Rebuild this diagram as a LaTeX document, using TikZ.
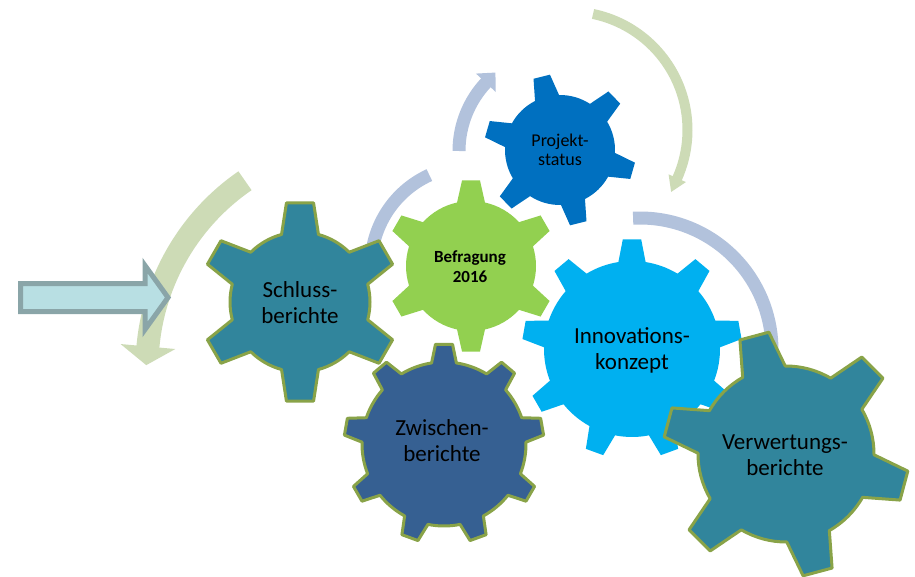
\documentclass[tikz,border=0pt]{standalone}
\usepackage{fontspec}
\setmainfont{Carlito}
\usetikzlibrary{calc}
\definecolor{tealgear}{RGB}{49,133,156}
\definecolor{navygear}{RGB}{54,96,146}
\definecolor{limegear}{RGB}{146,208,80}
\definecolor{bluegear}{RGB}{0,112,192}
\definecolor{skygear}{RGB}{0,176,240}
\definecolor{olivrim}{RGB}{137,163,72}
\definecolor{sagearc}{RGB}{205,219,182}
\definecolor{greyblue}{RGB}{178,194,220}
\definecolor{arrowfill}{RGB}{184,223,227}
\definecolor{arrowrim}{RGB}{138,165,168}
\tikzset{
  rimmed/.style={draw=olivrim, line width=3pt, line join=round},
  sagestroke/.style={draw=sagearc},
  sagehead/.style={fill=sagearc},
  bluestroke/.style={draw=greyblue, line width=13pt},
  bluehead/.style={fill=greyblue},
  gtext/.style={font=\fontsize{23}{26}\selectfont, align=center, text=black, inner sep=0pt},
  ptext/.style={font=\fontsize{18}{19.5}\selectfont, align=center, text=black, inner sep=0pt},
  btext/.style={font=\fontsize{17}{20}\selectfont\bfseries, align=center, text=black, inner sep=0pt},
  blockarrow/.style={draw=arrowrim, fill=arrowfill, line width=5pt, line join=miter}
}
% style, cx, cy (screen px), teeth, rotation, outer R, inner r, tip half-angle, base half-angle
\newcommand{\gearshape}[9]{%
  \path[#1, shift={(#2,-#3)}] ({#5-#9}:#7)
    \foreach \k [evaluate=\k as \a using #5+(\k-1)*360/#4] in {1,...,#4} {
      -- ({\a-#8}:#6) -- ({\a+#8}:#6) -- ({\a+#9}:#7)
      arc[start angle={\a+#9}, end angle={\a+360/#4-#9}, radius=#7]
    } -- cycle;}
\begin{document}
\begin{tikzpicture}[x=1pt,y=1pt]
\useasboundingbox (0,0) rectangle (915,-577);
% centres of the curved arrows
\coordinate (cGL) at (373,-367);
\coordinate (cBL) at (471,-266);
\coordinate (cBU) at (559,-151);
\coordinate (cGR) at (569,-130);
\coordinate (cBR) at (640,-350);
% left green curved arrow
\draw[sagestroke, line width=23pt] (cGL) ++(124.5:226) arc[start angle=124.5, end angle=175.3, radius=226];
\fill[sagehead] ($(cGL)+(174.8:253.5)$) -- ($(cGL)+(174.8:198.5)$) -- ($(cGL)+(174.8:226)+(264.8:18.7)$) -- cycle;
% blue arc around Befragung
\draw[bluestroke] (cBL) ++(180:100) arc[start angle=180, end angle=114.6, radius=100];
% blue arc around Projektstatus with head
\draw[bluestroke] (cBU) ++(180:100) arc[start angle=180, end angle=136.5, radius=100];
\fill[bluehead] ($(cBU)+(137:113.5)$) -- ($(cBU)+(137:86.5)$) -- ($(cBU)+(137:100)+(47:14)$) -- cycle;
% green arc top right
\draw[sagestroke, line width=10pt] (cGR) ++(78.3:118.5) arc[start angle=78.3, end angle=-24.5, radius=118.5];
\fill[sagehead] ($(cGR)+(-24:128)$) -- ($(cGR)+(-24:109)$) -- ($(cGR)+(-24:118.5)+(-114:15)$) -- cycle;
% blue arc right
\draw[bluestroke] (cBR) ++(93:132) arc[start angle=93, end angle=-8, radius=132];
% gears
\gearshape{fill=limegear}{471}{266}{6}{30}{86}{65}{6}{12.4}
\node[btext] (befragung) at (470,-267) {Befragung\\2016};
\gearshape{fill=bluegear}{560}{150}{6}{44}{76}{55}{6.4}{13}
\node[ptext] (projekt) at (560,-150) {Projekt-\\status};
\gearshape{fill=skygear}{632}{349}{9}{10}{110}{88}{4.8}{8.9}
\node[gtext] (innovation) at (632,-350) {Innovations-\\konzept};
\gearshape{fill=tealgear, rimmed}{300}{302}{6}{30}{100}{70}{7.8}{15.3}
\node[gtext] (schluss) at (300,-303) {Schluss-\\berichte};
\gearshape{fill=navygear, rimmed}{444}{444}{9}{10}{100}{82}{4.9}{8.7}
\node[gtext] (zwischen) at (442,-441) {Zwischen-\\berichte};
\gearshape{fill=tealgear, rimmed}{786}{454}{6}{45}{123}{88}{7}{14.5}
\node[gtext] (verwertung) at (785,-455) {Verwertungs-\\berichte};
% block arrow
\draw[blockarrow] (20.5,-283.5) -- (145,-283.5) -- (145,-265.5) -- (168,-297.5) -- (145,-329.5) -- (145,-311.5) -- (20.5,-311.5) -- cycle;
\end{tikzpicture}
\end{document}
